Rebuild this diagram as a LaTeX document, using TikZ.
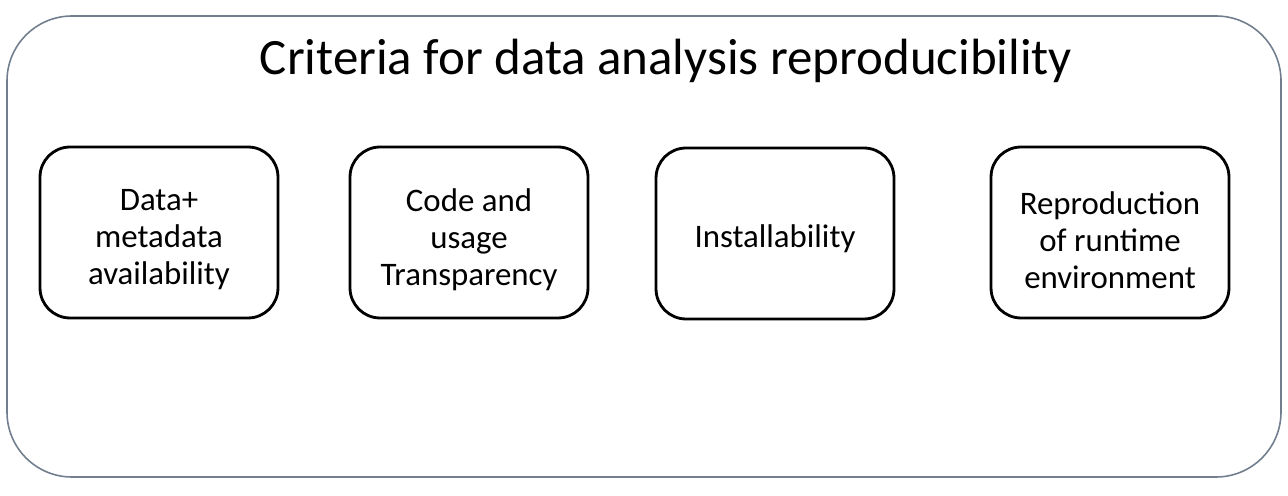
\documentclass[tikz,border=0pt]{standalone}
\usepackage{fontspec}
\setmainfont{Carlito}
\definecolor{framegray}{RGB}{112,126,142}
\begin{document}
\begin{tikzpicture}[x=0.02cm,y=-0.02cm]
			\tikzset{
				criterion/.style={draw, line width=1.6pt, rounded corners=0.6cm,
					minimum width=4.76cm, minimum height=3.42cm},
				criteriontext/.style={align=center, font=\fontsize{18.7}{21}\selectfont},
				headline/.style={font=\fontsize{29}{34}\selectfont}
			}
			%%%%% START %%%%%
			
			\useasboundingbox (0, 0) rectangle (1288, 496);
			
			\draw[line width=0.9pt, color=framegray, rounded corners=1.3cm] (7, 16) rectangle (1281, 477);
			\node[headline, anchor=base] (title) at (666, 75) {Criteria for data analysis reproducibility};
			
			\node[criterion] (data) at (159, 232.5) {};
			\node[criterion] (code) at (469, 232.5) {};
			\node[criterion] (install) at (775, 233.5) {};
			\node[criterion] (runtime) at (1110, 232.5) {};
			
			\node[criteriontext] (data text) at ([yshift=-0.15cm]data) {Data+\\metadata\\availability};
			\node[criteriontext] (code text) at ([yshift=-0.15cm]code) {Code and\\usage\\Transparency};
			\node[criteriontext] (install text) at ([yshift=-0.1cm]install) {Installability};
			\node[criteriontext] (runtime text) at ([yshift=-0.15cm]runtime) {Reproduction\\of runtime\\environment};
			
			%%%%% END %%%%%
\end{tikzpicture}
\end{document}
